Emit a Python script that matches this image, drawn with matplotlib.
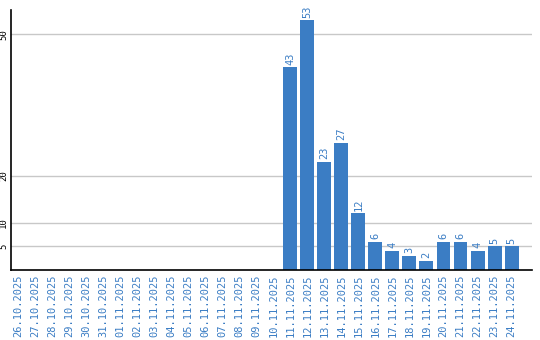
import matplotlib
matplotlib.use("Agg")
import matplotlib.pyplot as plt

dates = ["26.10.2025","27.10.2025","28.10.2025","29.10.2025","30.10.2025","31.10.2025",
         "01.11.2025","02.11.2025","03.11.2025","04.11.2025","05.11.2025","06.11.2025",
         "07.11.2025","08.11.2025","09.11.2025","10.11.2025","11.11.2025","12.11.2025",
         "13.11.2025","14.11.2025","15.11.2025","16.11.2025","17.11.2025","18.11.2025",
         "19.11.2025","20.11.2025","21.11.2025","22.11.2025","23.11.2025","24.11.2025"]
values = [0,0,0,0,0,0,0,0,0,0,0,0,0,0,0,0,43,53,23,27,12,6,4,3,2,6,6,4,5,5]
yticks = [5, 10, 20, 50]

blue = "#3b7dc4"
fig = plt.figure(figsize=(5.4, 3.4), dpi=100)
ax = fig.add_axes([11/540, 1-270/340, (532-11)/540, 260/340])
x = list(range(len(dates)))
ax.bar(x, values, width=0.82, color=blue, zorder=2)
for xi, v in zip(x, values):
    if v > 0:
        ax.text(xi, v + 0.6, str(v), rotation=90, ha="center", va="bottom",
                color=blue, fontsize=7.5, family="DejaVu Sans Mono")
ax.set_xlim(-0.41, 30.2)
ax.set_ylim(0, 55.2)
ax.set_yticks(yticks)
ax.set_yticklabels([str(t) for t in yticks], rotation=90, va="center",
                   fontsize=6.5, family="DejaVu Sans Mono")
ax.set_xticks(x)
ax.set_xticklabels(dates, rotation=90, color=blue, fontsize=7.5, family="DejaVu Sans Mono")
ax.tick_params(axis="both", length=0, pad=3)
ax.tick_params(axis="y", pad=2)
ax.grid(axis="y", color="#c8c8c8", linewidth=1, zorder=0)
for s in ["top", "right"]:
    ax.spines[s].set_visible(False)
ax.spines["left"].set_linewidth(1.2)
ax.spines["bottom"].set_linewidth(1.2)
fig.savefig("out.png", dpi=100)
